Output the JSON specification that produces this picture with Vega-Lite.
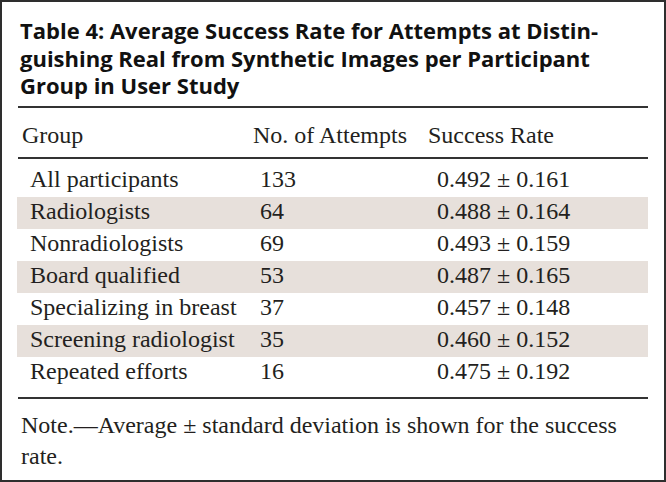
{
  "$schema": "https://vega.github.io/schema/vega-lite/v6.json",
  "width": 666,
  "height": 482,
  "autosize": "none",
  "padding": 0,
  "background": "white",
  "config": {
    "view": {"stroke": "#2e2e2e", "strokeWidth": 4},
    "text": {"font": "Liberation Serif", "fontSize": 24, "color": "#231f20", "align": "left", "baseline": "alphabetic", "dy": 6}
  },
  "title": {
    "text": ["Table 4: Average Success Rate for Attempts at Distin-", "guishing Real from Synthetic Images per Participant", "Group in User Study"],
    "anchor": "start",
    "frame": "group",
    "orient": "top",
    "font": "Open Sans",
    "fontWeight": "bold",
    "fontSize": 22,
    "lineHeight": 27.5,
    "color": "#111111",
    "offset": -99,
    "dx": 20
  },
  "data": {
    "values": [
      {"row": 1, "group": "All participants", "attempts": "133", "rate": "0.492 ± 0.161"},
      {"row": 2, "group": "Radiologists", "attempts": "64", "rate": "0.488 ± 0.164"},
      {"row": 3, "group": "Nonradiologists", "attempts": "69", "rate": "0.493 ± 0.159"},
      {"row": 4, "group": "Board qualified", "attempts": "53", "rate": "0.487 ± 0.165"},
      {"row": 5, "group": "Specializing in breast", "attempts": "37", "rate": "0.457 ± 0.148"},
      {"row": 6, "group": "Screening radiologist", "attempts": "35", "rate": "0.460 ± 0.152"},
      {"row": 7, "group": "Repeated efforts", "attempts": "16", "rate": "0.475 ± 0.192"}
    ]
  },
  "encoding": {
    "y": {"field": "row", "type": "quantitative", "scale": {"domain": [1, 7], "range": [181, 373], "zero": false, "nice": false, "padding": 0}, "axis": null}
  },
  "layer": [
    {
      "transform": [{"filter": "datum.row % 2 == 0"}],
      "mark": {"type": "bar", "size": 32, "color": "#e7e0db"},
      "encoding": {
        "x": {"datum": 17, "type": "quantitative", "scale": {"domain": [0, 666], "range": [0, 666], "zero": false, "nice": false, "padding": 0}, "axis": null},
        "x2": {"datum": 648}
      }
    },
    {
      "transform": [{"filter": "datum.row == 1"}],
      "mark": {"type": "rule", "color": "#333333", "strokeWidth": 2},
      "encoding": {"x": {"datum": 18, "type": "quantitative"}, "x2": {"datum": 648}, "y": {"datum": -1.3125, "type": "quantitative"}}
    },
    {
      "transform": [{"filter": "datum.row == 1"}],
      "mark": {"type": "rule", "color": "#333333", "strokeWidth": 2},
      "encoding": {"x": {"datum": 18, "type": "quantitative"}, "x2": {"datum": 648}, "y": {"datum": 0.28, "type": "quantitative"}}
    },
    {
      "transform": [{"filter": "datum.row == 1"}],
      "mark": {"type": "rule", "color": "#333333", "strokeWidth": 2},
      "encoding": {"x": {"datum": 18, "type": "quantitative"}, "x2": {"datum": 648}, "y": {"datum": 7.78, "type": "quantitative"}}
    },
    {
      "transform": [{"filter": "datum.row == 1"}],
      "mark": {"type": "text"},
      "encoding": {"x": {"datum": 22, "type": "quantitative"}, "y": {"datum": -0.385, "type": "quantitative"}, "text": {"value": "Group"}}
    },
    {
      "transform": [{"filter": "datum.row == 1"}],
      "mark": {"type": "text"},
      "encoding": {"x": {"datum": 253, "type": "quantitative"}, "y": {"datum": -0.385, "type": "quantitative"}, "text": {"value": "No. of Attempts"}}
    },
    {
      "transform": [{"filter": "datum.row == 1"}],
      "mark": {"type": "text"},
      "encoding": {"x": {"datum": 428, "type": "quantitative"}, "y": {"datum": -0.385, "type": "quantitative"}, "text": {"value": "Success Rate"}}
    },
    {
      "mark": {"type": "text"},
      "encoding": {"x": {"datum": 30, "type": "quantitative"}, "text": {"field": "group"}}
    },
    {
      "mark": {"type": "text"},
      "encoding": {"x": {"datum": 260, "type": "quantitative"}, "text": {"field": "attempts"}}
    },
    {
      "mark": {"type": "text"},
      "encoding": {"x": {"datum": 437, "type": "quantitative"}, "text": {"field": "rate"}}
    },
    {
      "transform": [{"filter": "datum.row == 1"}],
      "mark": {"type": "text"},
      "encoding": {"x": {"datum": 21, "type": "quantitative"}, "y": {"datum": 8.69, "type": "quantitative"}, "text": {"value": "Note.—Average ± standard deviation is shown for the success"}}
    },
    {
      "transform": [{"filter": "datum.row == 1"}],
      "mark": {"type": "text"},
      "encoding": {"x": {"datum": 21, "type": "quantitative"}, "y": {"datum": 9.66, "type": "quantitative"}, "text": {"value": "rate."}}
    }
  ]
}
